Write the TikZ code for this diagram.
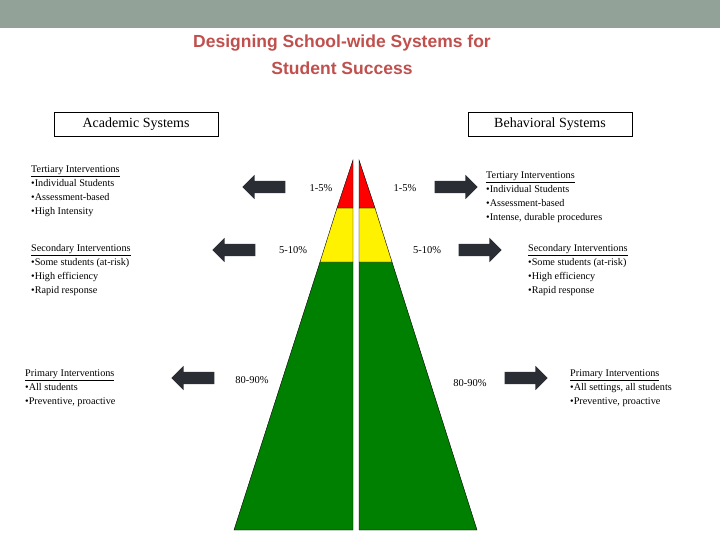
\documentclass[tikz,border=0pt]{standalone}
\usepackage{fontspec}
\setmainfont{Liberation Serif}
\newfontfamily\titlefont{Liberation Sans}
\usetikzlibrary{shapes.arrows}
\definecolor{barc}{HTML}{93A299}
\definecolor{titc}{HTML}{C0504D}
\definecolor{arrc}{HTML}{2B2D35}
\definecolor{tgreen}{HTML}{008000}
\begin{document}
\begin{tikzpicture}[x=1pt,y=-1pt,
  blk/.style={single arrow,fill=arrc,minimum width=24pt,single arrow head extend=6pt,minimum height=43pt,inner sep=0pt,text width=0pt,text height=12pt,text depth=0pt},
  txt/.style={align=left,anchor=north west,font=\fontsize{10.2}{14}\selectfont,inner sep=0pt},
  pct/.style={font=\fontsize{10.5}{12}\selectfont,inner sep=0pt},
  hdr/.style={draw,font=\fontsize{14}{15}\selectfont,minimum width=164pt,minimum height=24pt,inner sep=2pt}]
\useasboundingbox (0,0) rectangle (720,540);
\fill[barc] (0,0) rectangle (720,28);
\node[font=\titlefont\bfseries\fontsize{17.5}{27}\selectfont,text=titc,align=center] (title) at (342,55) {Designing School-wide Systems for\\Student Success};
\node[hdr] (acad) at (136,124) {Academic Systems};
\node[hdr] (beh) at (550,124) {Behavioral Systems};
% triangle halves
\fill[tgreen,draw=black] (320,262) -- (234,530) -- (353,530) -- (353,262) -- cycle;
\fill[yellow,draw=black] (337,208) -- (320,262) -- (353,262) -- (353,208) -- cycle;
\fill[red,draw=black] (353,160) -- (337,208) -- (353,208) -- cycle;
\fill[tgreen,draw=black] (392,262) -- (477,530) -- (359,530) -- (359,262) -- cycle;
\fill[yellow,draw=black] (375,208) -- (392,262) -- (359,262) -- (359,208) -- cycle;
\fill[red,draw=black] (359,160) -- (375,208) -- (359,208) -- cycle;
% arrows
\node[blk,shape border rotate=180] (a1) at (267,187) {};
\node[blk,shape border rotate=180] (a2) at (237,250) {};
\node[blk,shape border rotate=180] (a3) at (196,378) {};
\node[blk] (b1) at (453,187) {};
\node[blk] (b2) at (477,250) {};
\node[blk] (b3) at (523,378) {};
% percents
\node[pct] (p1) at (321,188) {1-5\%};
\node[pct] (p2) at (293,250) {5-10\%};
\node[pct] (p3) at (252,380) {80-90\%};
\node[pct] (q1) at (405,188) {1-5\%};
\node[pct] (q2) at (427,250) {5-10\%};
\node[pct] (q3) at (470,383) {80-90\%};
% texts
\node[txt] (t1) at (31,166) {\underline{Tertiary Interventions}\\\textbullet Individual Students\\\textbullet Assessment-based\\\textbullet High Intensity};
\node[txt] (t2) at (31,244) {\underline{Secondary Interventions}\\\textbullet Some students (at-risk)\\\textbullet High efficiency\\\textbullet Rapid response};
\node[txt] (t3) at (25,370) {\underline{Primary Interventions}\\\textbullet All students\\\textbullet Preventive,\ proactive};
\node[txt] (u1) at (486,172) {\underline{Tertiary Interventions}\\\textbullet Individual Students\\\textbullet Assessment-based\\\textbullet Intense, durable procedures};
\node[txt] (u2) at (528,244) {\underline{Secondary Interventions}\\\textbullet Some students (at-risk)\\\textbullet High efficiency\\\textbullet Rapid response};
\node[txt] (u3) at (570,370) {\underline{Primary Interventions}\\\textbullet All settings, all students\\\textbullet Preventive,\ proactive};
\end{tikzpicture}
\end{document}
